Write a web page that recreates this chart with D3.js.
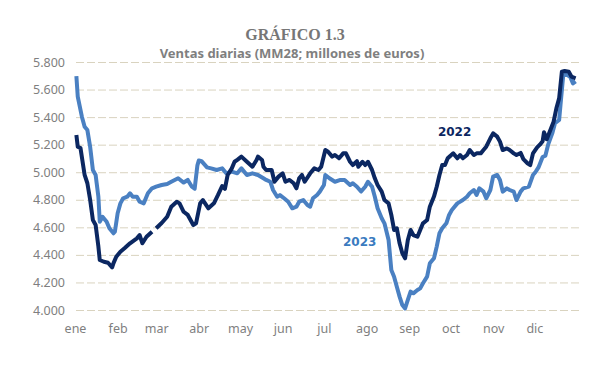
<!DOCTYPE html>
<html>
<head>
<meta charset="utf-8">
<script src="https://cdn.jsdelivr.net/npm/d3@7"></script>
<style>
  body { margin: 0; background: #fff; }
  .tick text { font-family: "Noto Sans", sans-serif; fill: #7f7f7f; }
</style>
</head>
<body>
<div id="chart"></div>
<script>
// meses (etiquetas del eje X) y dia del año en que empieza cada uno
var meses = ["ene","feb","mar","abr","may","jun","jul","ago","sep","oct","nov","dic"];
var inicioMes = [0,31,59,90,120,151,181,212,243,273,304,334];
var yTicks = [4000,4200,4400,4600,4800,5000,5200,5400,5600,5800];

// 2022: dia del año / ventas diarias (MM28, millones de euros)
var dias2022 = [1,2,4,7,9,11,13,15,17,18,21,24,27,28,30,33,36,40,45,47,49,52,56,57,59,63,67,70,74,76,79,82,86,88,91,93,97,101,104,107,109,111,114,116,118,121,125,129,132,133,136,137,139,143,145,148,151,153,156,159,161,163,165,167,171,174,177,179,182,184,187,189,192,195,197,200,202,205,206,209,211,213,216,218,220,223,225,228,230,232,234,236,238,240,242,244,246,249,251,253,256,258,261,263,265,267,269,271,273,275,278,280,282,285,287,290,292,295,297,299,302,304,307,309,311,314,316,319,321,324,326,329,331,333,336,338,340,341,343,345,348,350,352,354,356,359,361,364];
var ventas2022 = [5270,5185,5175,4980,4920,4800,4653,4617,4460,4363,4350,4343,4310,4340,4387,4423,4448,4484,4520,4544,4484,4532,4568,null,4593,4631,4677,4750,4786,4774,4713,4690,4617,4629,4774,4798,4738,4774,4835,4900,4880,4980,5028,5076,5090,5113,5076,5040,5089,5113,5089,5040,5016,5016,4931,4968,4992,4931,4944,4920,4883,4956,4980,4931,4992,5028,5016,5040,5161,5149,5113,5125,5101,5137,5137,5076,5052,5080,5040,5076,5052,5076,5016,4956,4907,4859,4798,4774,4690,4581,4593,4484,4412,4375,4508,4581,4544,4532,4581,4629,4653,4750,4823,4895,4980,5052,5052,5101,5120,5137,5101,5125,5101,5125,5161,5125,5137,5137,5161,5185,5246,5282,5258,5222,5161,5173,5161,5137,5125,5140,5095,5065,5052,5137,5180,5200,5225,5290,5240,5290,5367,5464,5536,5730,5735,5730,5693,5682];

// 2023
var dias2023 = [1,2,5,7,9,11,13,15,17,18,20,23,25,28,29,31,33,35,38,40,42,45,47,50,53,56,59,63,67,70,75,79,82,85,87,89,90,92,96,99,103,107,110,114,118,121,125,129,133,137,139,142,144,147,149,152,155,158,161,163,166,169,171,173,176,178,181,182,185,189,193,196,200,202,205,208,211,213,216,218,220,223,225,228,230,232,234,236,238,240,242,244,246,249,251,253,256,258,261,263,265,267,270,272,274,278,282,285,287,290,292,294,297,299,302,304,307,309,311,314,316,319,321,324,326,330,333,335,337,340,342,344,347,349,352,353,355,358,360,362,364];
var ventas2023 = [5698,5548,5403,5330,5306,5185,5016,4980,4822,4641,4677,4641,4593,4557,4568,4702,4774,4811,4822,4847,4822,4822,4786,4774,4847,4883,4895,4907,4915,4931,4956,4925,4944,4895,4880,5050,5085,5080,5035,5028,5016,5028,4992,5004,4992,5028,4980,4992,4980,4956,4944,4931,4871,4822,4834,4811,4786,4738,4750,4786,4798,4762,4750,4811,4835,4859,4907,4980,4956,4931,4944,4944,4907,4920,4895,4860,4895,4931,4895,4822,4738,4666,4629,4508,4290,4242,4169,4097,4036,4012,4073,4133,4121,4145,4157,4194,4242,4339,4375,4460,4557,4593,4629,4690,4726,4774,4798,4822,4847,4871,4835,4883,4859,4811,4871,4968,4980,4944,4859,4883,4871,4859,4798,4859,4883,4895,4980,5004,5035,5110,5120,5200,5282,5355,5379,5488,5706,5706,5693,5645,5660];

var width = 599, height = 368;
var margin = { left: 75, right: 577, top: 62, bottom: 310 };

var svg = d3.select("#chart").append("svg")
  .attr("width", width)
  .attr("height", height)
  .style("font-family", "'Noto Sans', sans-serif");

var x = d3.scaleLinear().domain([0, 365]).range([margin.left, margin.right]);
var y = d3.scaleLinear().domain([4000, 5800]).range([margin.bottom, margin.top]);

// titulos
svg.append("text")
  .attr("x", 295).attr("y", 40)
  .attr("text-anchor", "middle")
  .style("font-family", "'Liberation Serif', serif")
  .style("font-weight", "bold")
  .style("font-size", "16px")
  .style("fill", "#767676")
  .text("GRÁFICO 1.3");
svg.append("text")
  .attr("x", 292).attr("y", 58)
  .attr("text-anchor", "middle")
  .style("font-weight", "bold")
  .style("font-size", "13px")
  .style("fill", "#7f7f7f")
  .text("Ventas diarias (MM28; millones de euros)");

// lineas de rejilla
var grid = svg.append("g")
  .attr("transform", "translate(" + (margin.left + 1) + ",0)")
  .call(d3.axisLeft(y).tickValues(yTicks).tickSize(-(margin.right - margin.left + 1)).tickFormat(""));
grid.select(".domain").remove();
grid.selectAll("line")
  .attr("stroke", "#d9d3bf")
  .attr("stroke-width", 1)
  .attr("stroke-dasharray", "8,3");

// eje Y
var yAxis = svg.append("g")
  .attr("transform", "translate(" + margin.left + ",0)")
  .call(d3.axisLeft(y).tickValues(yTicks).tickSize(0).tickPadding(10)
    .tickFormat(function(d) { return d3.format(",.3f")(d / 1000).replace(",", ""); }));
yAxis.select(".domain").remove();
yAxis.selectAll("text").style("font-size", "12.5px");

// eje X
var xAxis = svg.append("g")
  .attr("transform", "translate(0," + margin.bottom + ")")
  .call(d3.axisBottom(x).tickValues(inicioMes).tickSize(0).tickPadding(14)
    .tickFormat(function(d, i) { return meses[i]; }));
xAxis.select(".domain").remove();
xAxis.selectAll("text").style("font-size", "12.5px");

// series
var line = d3.line()
  .defined(function(d) { return d[1] != null; })
  .x(function(d) { return x(d[0]); })
  .y(function(d) { return y(d[1]); });

var serie2023 = dias2023.map(function(d, i) { return [d, ventas2023[i]]; });
var serie2022 = dias2022.map(function(d, i) { return [d, ventas2022[i]]; });

svg.append("path")
  .datum(serie2023)
  .attr("d", line)
  .attr("fill", "none")
  .attr("stroke", "#4a80c2")
  .attr("stroke-width", 4)
  .attr("stroke-linejoin", "round");

svg.append("path")
  .datum(serie2022)
  .attr("d", line)
  .attr("fill", "none")
  .attr("stroke", "#0b2761")
  .attr("stroke-width", 4)
  .attr("stroke-linejoin", "round");

// etiquetas de serie
svg.append("text")
  .attr("x", x(276)).attr("y", y(5263))
  .attr("text-anchor", "middle")
  .style("font-family", "'DejaVu Sans', sans-serif")
  .style("font-weight", "bold")
  .style("font-size", "12px")
  .style("fill", "#0b2761")
  .text("2022");
svg.append("text")
  .attr("x", x(207)).attr("y", y(4464))
  .attr("text-anchor", "middle")
  .style("font-family", "'DejaVu Sans', sans-serif")
  .style("font-weight", "bold")
  .style("font-size", "12px")
  .style("fill", "#3a7bbf")
  .text("2023");
</script>
</body>
</html>
